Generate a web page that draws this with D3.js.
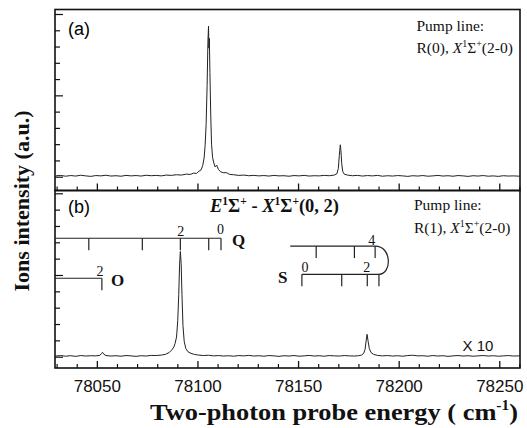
<!DOCTYPE html>
<html>
<head>
<meta charset="utf-8">
<script src="https://cdn.jsdelivr.net/npm/d3@7"></script>
<style>
  html, body { margin: 0; padding: 0; background: #fff; }
  svg { display: block; }
  .serif { font-family: "Liberation Serif", "Times New Roman", serif; }
  .sans { font-family: "Liberation Sans", Arial, sans-serif; }
</style>
</head>
<body>
<svg id="chart" width="527" height="428"></svg>
<script>
// ---- spectrum (a): pump R(0), probe scan ----
const aEnergy = [78029.5,78032,78034.5,78037,78039.5,78042,78044.5,78047,78049.5,78052,78054.5,78057,78059.5,78062,78064.5,78067,78069.5,78072,78074.5,78077,78079.5,78082,78084.5,78087,78089.5,78092,78094.5,78096.5,78098,78099.5,78100.8,78101.8,78102.6,78103.3,78103.8,78104.3,78104.8,78105.2,78105.5,78105.7,78105.9,78106.2,78106.6,78107.0,78107.5,78108.1,78108.8,78109.6,78110.4,78111.5,78112.8,78114.6,78116,78118,78120.5,78123,78125.5,78128,78130.5,78133,78135.5,78138,78140.5,78143,78145.5,78148,78150.5,78153,78155.5,78158,78160.5,78163,78165.5,78168,78169.3,78170.0,78170.5,78171.0,78171.3,78171.7,78172.2,78173,78174.5,78177,78179.5,78182,78184.5,78187,78189.5,78192,78194.5,78197,78199.5,78202,78204.5,78207,78209.5,78212,78214.5,78217,78219.5,78222,78224.5,78227,78229.5,78232,78234.5,78237,78239.5,78242,78244.5,78247,78249.5,78252,78254.5,78257,78260.2];
const aSignal = [0.05,0.08,0.03,0.07,0.04,0.09,0.05,0.02,0.07,0.05,0.09,0.04,0.06,0.03,0.08,0.05,0.07,0.04,0.09,0.06,0.08,0.05,0.10,0.08,0.12,0.10,0.16,0.14,0.22,0.20,0.34,0.42,0.68,1.15,1.9,3.2,5.6,8.3,9.25,7.9,8.5,6.4,3.8,2.0,1.2,0.85,0.6,0.7,0.45,0.3,0.25,0.24,0.14,0.12,0.08,0.10,0.06,0.08,0.05,0.07,0.04,0.08,0.05,0.06,0.03,0.07,0.05,0.08,0.04,0.06,0.05,0.08,0.06,0.10,0.18,0.5,1.3,1.96,1.6,0.8,0.32,0.15,0.10,0.06,0.08,0.04,0.07,0.05,0.08,0.03,0.06,0.04,0.07,0.05,0.02,0.06,0.04,0.07,0.03,0.05,0.08,0.04,0.06,0.03,0.07,0.05,0.02,0.06,0.04,0.07,0.03,0.05,0.02,0.06,0.04,0.05,0.03];

// ---- spectrum (b): pump R(1), probe scan (x10) ----
const bEnergy = [78029.5,78032,78034.5,78037,78039.5,78042,78044.5,78047,78049.5,78051.5,78052.3,78052.8,78053.4,78054.5,78057,78059.5,78062,78064.5,78067,78069.5,78072,78074.5,78077,78079.5,78082,78084,78086,78087.3,78088.3,78088.9,78089.6,78090.2,78090.7,78091.1,78091.5,78091.9,78092.3,78092.8,78093.4,78094.2,78095.3,78096.8,78098.5,78100.5,78103,78105.5,78108,78110.5,78113,78115.5,78118,78120.5,78123,78125.5,78128,78130.5,78133,78135.5,78138,78140.5,78143,78145.5,78148,78150.5,78153,78155.5,78158,78160.5,78163,78165.5,78168,78170.5,78173,78175.5,78178,78180,78181.5,78182.6,78183.3,78183.8,78184.3,78184.8,78185.4,78186.3,78187.5,78189.5,78192,78194.5,78197,78199.5,78202,78204.5,78207,78209.5,78212,78214.5,78217,78219.5,78222,78224.5,78227,78229.5,78232,78234.5,78237,78239.5,78242,78244.5,78247,78249.5,78252,78254.5,78257,78260.2];
const bSignal = [0.04,0.07,0.03,0.06,0.02,0.07,0.04,0.06,0.05,0.08,0.2,0.27,0.16,0.07,0.04,0.06,0.03,0.07,0.05,0.02,0.06,0.04,0.08,0.07,0.10,0.14,0.26,0.42,0.6,0.82,1.2,2.2,3.8,5.6,6.44,5.7,3.8,1.9,0.95,0.5,0.3,0.2,0.14,0.10,0.07,0.09,0.05,0.07,0.04,0.06,0.03,0.07,0.05,0.08,0.04,0.06,0.03,0.07,0.05,0.02,0.06,0.04,0.07,0.03,0.05,0.08,0.04,0.06,0.03,0.07,0.05,0.04,0.07,0.05,0.04,0.06,0.10,0.2,0.45,0.95,1.37,0.95,0.5,0.25,0.14,0.08,0.05,0.07,0.04,0.06,0.03,0.07,0.09,0.05,0.06,0.03,0.07,0.04,0.06,0.02,0.05,0.07,0.04,0.06,0.03,0.05,0.07,0.04,0.06,0.03,0.05,0.07,0.04,0.05];

// ---- rotational branch positions (cm^-1) ----
const qBranch = [78111.7, 78105.6, 78091.5, 78072.6, 78046.0];   // Q(0)..Q(4)
const oBranch = [78052.5];                                       // O(2)
const sBranch = [78151.9, 78171.7, 78184.4, 78190.2, 78188.3, 78178.0, 78159.0]; // S(0)..S(6)
const sUpperStart = 78146.1;

// ---- axis ticks ----
const xMajor = [78050, 78100, 78150, 78200, 78250];
const xMinor = d3.range(78030, 78261, 10).filter(v => v % 50 !== 0);
const yMajor = [0, 5, 10];
const yMinor = [1, 2, 3, 4, 6, 7, 8, 9];

const svg = d3.select("#chart");
const left = 55, right = 520;
const topA = 9.5, divY = 190.5, bottomB = 368;

const x = d3.scaleLinear().domain([78029.2, 78260.3]).range([left, right]);
const ya = d3.scaleLinear().domain([0, 10]).range([176.7, 14]);
const yb = d3.scaleLinear().domain([0, 10]).range([356.7, 193.3]);

// clip regions for each panel
const defs = svg.append("defs");
defs.append("clipPath").attr("id", "clipA").append("rect")
  .attr("x", left).attr("y", topA).attr("width", right - left).attr("height", divY - topA);
defs.append("clipPath").attr("id", "clipB").append("rect")
  .attr("x", left).attr("y", divY).attr("width", right - left).attr("height", bottomB - divY);

function drawAxes(y, y0, y1, withLabels) {
  // bottom ticks (inside)
  const gMaj = svg.append("g").attr("transform", `translate(0,${y1})`)
    .call(d3.axisBottom(x).tickValues(xMajor).tickSizeInner(-7).tickSizeOuter(0).tickPadding(11.5)
      .tickFormat(withLabels ? d3.format("d") : () => ""));
  gMaj.select(".domain").remove();
  gMaj.selectAll("line").attr("stroke", "#111").attr("stroke-width", 1.3);
  gMaj.selectAll("text").attr("class", "sans").attr("font-size", 17).attr("fill", "#111");
  const gMin = svg.append("g").attr("transform", `translate(0,${y1})`)
    .call(d3.axisBottom(x).tickValues(xMinor).tickSizeInner(-4).tickSizeOuter(0).tickFormat(() => ""));
  gMin.select(".domain").remove();
  gMin.selectAll("line").attr("stroke", "#111").attr("stroke-width", 1.2);
  // left ticks (inside)
  const lMaj = svg.append("g").attr("transform", `translate(${left},0)`)
    .call(d3.axisLeft(y).tickValues(yMajor).tickSizeInner(-8).tickSizeOuter(0).tickFormat(() => ""));
  lMaj.select(".domain").remove();
  lMaj.selectAll("line").attr("stroke", "#111").attr("stroke-width", 1.2);
  const lMin = svg.append("g").attr("transform", `translate(${left},0)`)
    .call(d3.axisLeft(y).tickValues(yMinor).tickSizeInner(-5).tickSizeOuter(0).tickFormat(() => ""));
  lMin.select(".domain").remove();
  lMin.selectAll("line").attr("stroke", "#111").attr("stroke-width", 1.2);
  // frame
  svg.append("rect").attr("x", left).attr("y", y0).attr("width", right - left).attr("height", y1 - y0)
    .attr("fill", "none").attr("stroke", "#111").attr("stroke-width", 1.6);
}

// spectra
const lineA = d3.line().x((d, i) => x(aEnergy[i])).y(d => ya(d));
const lineB = d3.line().x((d, i) => x(bEnergy[i])).y(d => yb(d));
svg.append("path").datum(aSignal).attr("clip-path", "url(#clipA)")
  .attr("d", lineA).attr("fill", "none").attr("stroke", "#222").attr("stroke-width", 1);
svg.append("path").datum(bSignal).attr("clip-path", "url(#clipB)")
  .attr("d", lineB).attr("fill", "none").attr("stroke", "#222").attr("stroke-width", 1);

drawAxes(ya, topA, divY, false);
drawAxes(yb, divY, bottomB, true);

// panel letters
svg.append("text").attr("class", "sans").attr("x", 68).attr("y", 35).attr("font-size", 18).text("(a)");
svg.append("text").attr("class", "sans").attr("x", 68).attr("y", 213).attr("font-size", 18).text("(b)");

// pump line notes
function pumpNote(x0, yTop, rot) {
  const t = svg.append("text").attr("class", "serif").attr("font-size", 15.5).attr("fill", "#111");
  t.append("tspan").attr("x", x0).attr("y", yTop).text("Pump line:");
  const l2 = svg.append("text").attr("class", "serif").attr("font-size", 15.5).attr("fill", "#111")
    .attr("x", x0).attr("y", yTop + 22.6);
  l2.append("tspan").text(rot + ", ");
  l2.append("tspan").attr("font-style", "italic").text("X");
  l2.append("tspan").attr("font-size", 10).attr("dy", -6).text("1");
  l2.append("tspan").attr("dy", 6).text("Σ");
  l2.append("tspan").attr("font-size", 10).attr("dy", -6).text("+");
  l2.append("tspan").attr("dy", 6).text("(2-0)");
}
pumpNote(416.5, 30.7, "R(0)");
pumpNote(414, 210, "R(1)");

// band title in (b)
const title = svg.append("text").attr("class", "serif").attr("font-size", 18.5).attr("font-weight", "bold")
  .attr("x", 210).attr("y", 212).attr("fill", "#111");
title.append("tspan").attr("font-style", "italic").text("E");
title.append("tspan").attr("font-size", 11.5).attr("dy", -7.5).text("1");
title.append("tspan").attr("dy", 7.5).text("Σ");
title.append("tspan").attr("font-size", 11.5).attr("dy", -7.5).text("+");
title.append("tspan").attr("dy", 7.5).text(" - ");
title.append("tspan").attr("font-style", "italic").text("X");
title.append("tspan").attr("font-size", 11.5).attr("dy", -7.5).text("1");
title.append("tspan").attr("dy", 7.5).text("Σ");
title.append("tspan").attr("font-size", 11.5).attr("dy", -7.5).text("+");
title.append("tspan").attr("dy", 7.5).text("(0, 2)");

// "X 10" scale note
svg.append("text").attr("class", "sans").attr("font-size", 15).attr("x", 462.5).attr("y", 350.5)
  .attr("fill", "#111").text("X 10");

// branch assignment combs
const comb = svg.append("g").attr("stroke", "#222").attr("stroke-width", 1.2).attr("fill", "none");
const tickLen = 12;
function hline(e0, e1, yv) {
  comb.append("line").attr("x1", x(e0)).attr("x2", x(e1)).attr("y1", yb(yv)).attr("y2", yb(yv));
}
function vticks(vals, yv) {
  vals.forEach(e => comb.append("line").attr("x1", x(e)).attr("x2", x(e))
    .attr("y1", yb(yv)).attr("y2", yb(yv) + tickLen));
}
const qLevel = 7.25, oLevel = 4.8, sUp = 6.77, sLow = 5.04;
// Q branch
hline(x.domain()[0], qBranch[0], qLevel);
vticks(qBranch, qLevel);
// O branch
hline(x.domain()[0], oBranch[0], oLevel);
vticks(oBranch, oLevel);
// S branch: lower run S(0)-S(3), turning at the band head, upper run S(4)-S(6)
hline(sBranch[0], sBranch[3], sLow);
vticks(sBranch.slice(0, 4), sLow);
hline(sUpperStart, sBranch[4], sUp);
vticks(sBranch.slice(4), sUp);
comb.append("path").attr("d",
  `M${x(sBranch[4])},${yb(sUp)} C${x(sBranch[4]) + 17},${yb(sUp)} ${x(sBranch[3]) + 13},${yb(sLow)} ${x(sBranch[3])},${yb(sLow)}`);

// comb labels
function numLabel(txt, e, yPix, dx) {
  svg.append("text").attr("class", "serif").attr("font-size", 14).attr("text-anchor", "middle")
    .attr("x", x(e) + (dx || 0)).attr("y", yPix).attr("fill", "#111").text(txt);
}
numLabel("2", qBranch[2], yb(qLevel) - 2, 0.5);
numLabel("0", qBranch[0], yb(qLevel) - 4, -0.5);
numLabel("2", oBranch[0], yb(oLevel) - 2.5, -2);
numLabel("4", sBranch[4], yb(sUp) - 1.5, -3.5);
numLabel("0", sBranch[0], yb(sLow) - 2, 3);
numLabel("2", sBranch[2], yb(sLow) - 2, -0.5);

function branchName(txt, xPix, yPix) {
  svg.append("text").attr("class", "serif").attr("font-size", 17).attr("font-weight", "bold")
    .attr("x", xPix).attr("y", yPix).attr("fill", "#111").text(txt);
}
branchName("Q", x(qBranch[0]) + 11, yb(qLevel) + 8);
branchName("O", x(oBranch[0]) + 9, yb(oLevel) + 8);
branchName("S", x(sBranch[0]) - 24, yb(sLow) + 9);

// axis titles
const xt = svg.append("text").attr("class", "serif").attr("font-size", 24).attr("font-weight", "bold")
  .attr("x", 150).attr("y", 420).attr("fill", "#111")
  .attr("textLength", 368).attr("lengthAdjust", "spacingAndGlyphs");
xt.append("tspan").text("Two-photon probe energy ( cm");
xt.append("tspan").attr("font-size", 14).attr("dy", -10).text("-1");
xt.append("tspan").attr("dy", 10).text(")");

svg.append("text").attr("class", "serif").attr("font-size", 22).attr("font-weight", "bold")
  .attr("text-anchor", "middle").attr("transform", "translate(29,201) rotate(-90)")
  .attr("fill", "#111").text("Ions intensity (a.u.)");
</script>
</body>
</html>
